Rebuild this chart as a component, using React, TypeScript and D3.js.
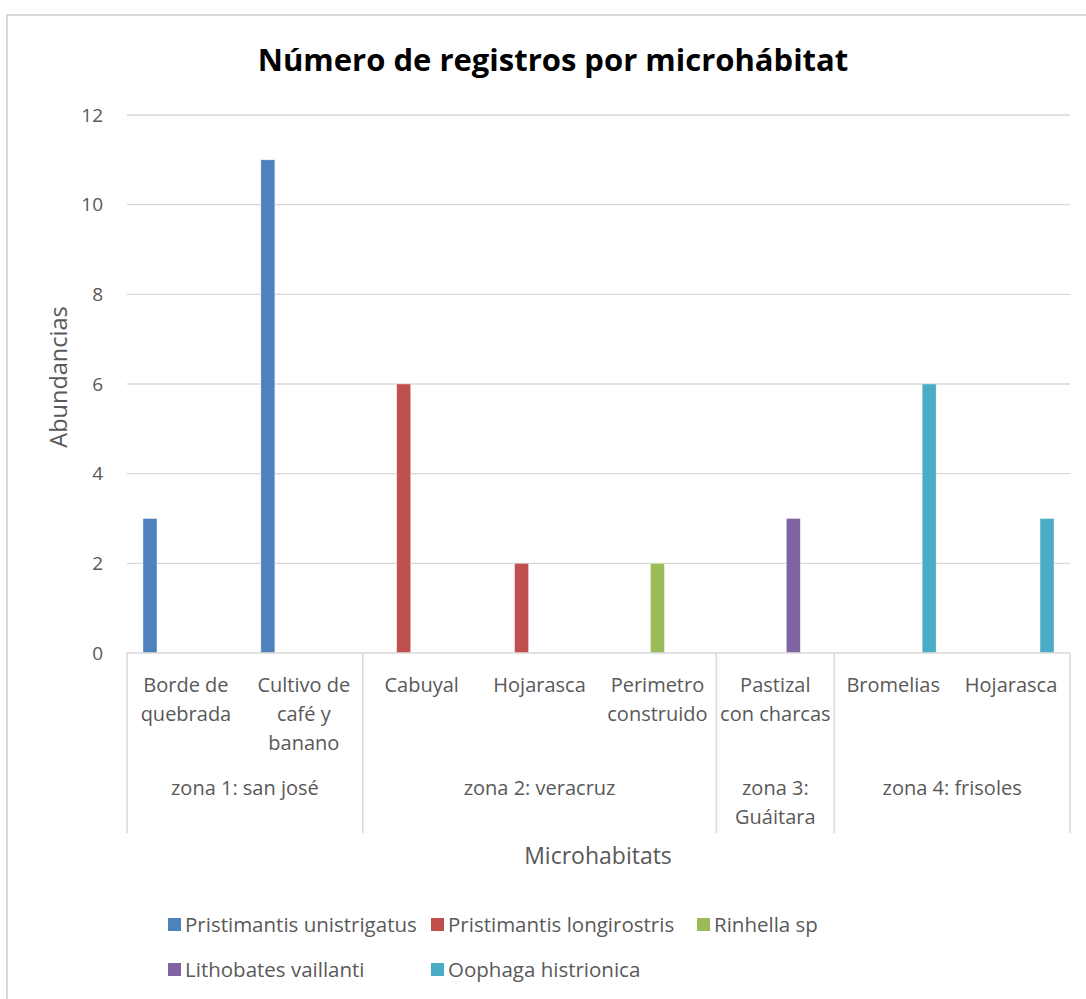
import React, { useEffect } from "react";
import * as d3 from "d3";

const title = "Número de registros por microhábitat";
const yAxisTitle = "Abundancias";
const xAxisTitle = "Microhabitats";

const categories = [
  "Borde de\nquebrada",
  "Cultivo de\ncafé y\nbanano",
  "Cabuyal",
  "Hojarasca",
  "Perimetro\nconstruido",
  "Pastizal\ncon charcas",
  "Bromelias",
  "Hojarasca",
];
const zones = ["zona 1: san josé", "zona 2: veracruz", "zona 3:\nGuáitara", "zona 4: frisoles"];
const zoneSizes = [2, 3, 1, 2];

const seriesNames = [
  "Pristimantis unistrigatus",
  "Pristimantis longirostris",
  "Rinhella sp",
  "Lithobates vaillanti",
  "Oophaga histrionica",
];
const seriesColors = ["#4f81bd", "#c0504d", "#9bbb59", "#8064a2", "#4bacc6"];

// value per category for each series (null = no bar)
const pUnistrigatus = [3, 11, null, null, null, null, null, null];
const pLongirostris = [null, null, 6, 2, null, null, null, null];
const rinhella = [null, null, null, null, 2, null, null, null];
const lithobates = [null, null, null, null, null, 3, null, null];
const oophaga = [null, null, null, null, null, null, 6, 3];
const seriesValues = [pUnistrigatus, pLongirostris, rinhella, lithobates, oophaga];

const yTicks = [0, 2, 4, 6, 8, 10, 12];

const FONT = "'Open Sans', Lato, sans-serif";
const TEXT = "#595959";
const GRID = "#d9d9d9";

export default function App() {
  useEffect(() => {
    document.body.style.margin = "0";
  }, []);

  const W = 1086;
  const H = 999;
  const left = 127;
  const right = 1070;
  const top = 115;
  const bottom = 653;
  const axisBottom = 833;

  const y = d3.scaleLinear().domain([0, 12]).range([bottom, top]);
  const x = d3
    .scaleBand<number>()
    .domain(d3.range(categories.length))
    .range([left, right])
    .padding(0);
  const inner = d3
    .scaleBand<number>()
    .domain(d3.range(seriesNames.length))
    .range([0, x.bandwidth()])
    .paddingInner(0.222)
    .paddingOuter(0.889);

  const zoneStarts: number[] = [];
  let acc = 0;
  zoneSizes.forEach((s) => {
    zoneStarts.push(acc);
    acc += s;
  });
  const boundaries = [...zoneStarts.map((s) => x(s) as number), right];

  const legendCols = [168, 431, 697];
  const legendRows = [925, 970];
  const LBL = 20;

  return (
    <svg
      width={W}
      height={H}
      style={{ position: "absolute", left: 0, top: 0, background: "#fff" }}
      fontFamily={FONT}
    >
      <rect x={0} y={0} width={W} height={H} fill="#fff" />
      <rect x={7} y={15} width={W + 20} height={H + 20} fill="none" stroke={GRID} strokeWidth={2} />

      <text x={553} y={71} textAnchor="middle" fontSize={31} fontWeight="bold" fill="#000">
        {title}
      </text>

      {yTicks.map((t) => (
        <g key={t}>
          {t !== 0 && (
            <line x1={left} x2={right} y1={y(t)} y2={y(t)} stroke={GRID} strokeWidth={1.3} />
          )}
          <text x={103} y={y(t)} dy="0.35em" textAnchor="end" fontSize={19} fill={TEXT}>
            {t}
          </text>
        </g>
      ))}

      {seriesValues.map((vals, si) =>
        vals.map((v, ci) =>
          v == null ? null : (
            <rect
              key={`${si}-${ci}`}
              x={(x(ci) as number) + (inner(si) as number)}
              y={y(v)}
              width={inner.bandwidth()}
              height={y(0) - y(v)}
              fill={seriesColors[si]}
              stroke="#fff"
              strokeOpacity={0.6}
              strokeWidth={0.6}
            />
          )
        )
      )}

      <line x1={left} x2={right} y1={bottom} y2={bottom} stroke={GRID} strokeWidth={1.5} />
      {boundaries.map((bx, i) => (
        <line key={i} x1={bx} x2={bx} y1={bottom} y2={axisBottom} stroke={GRID} strokeWidth={1.5} />
      ))}

      {categories.map((c, i) => (
        <text
          key={i}
          x={(x(i) as number) + x.bandwidth() / 2}
          y={692}
          textAnchor="middle"
          fontSize={LBL}
          fill={TEXT}
        >
          {c.split("\n").map((line, li) => (
            <tspan key={li} x={(x(i) as number) + x.bandwidth() / 2} dy={li === 0 ? 0 : 29}>
              {line}
            </tspan>
          ))}
        </text>
      ))}

      {zones.map((z, i) => {
        const cx = (boundaries[i] + boundaries[i + 1]) / 2;
        return (
          <text key={i} x={cx} y={795} textAnchor="middle" fontSize={LBL} fill={TEXT}>
            {z.split("\n").map((line, li) => (
              <tspan key={li} x={cx} dy={li === 0 ? 0 : 29}>
                {line}
              </tspan>
            ))}
          </text>
        );
      })}

      <text
        transform={`translate(67, 377) rotate(-90)`}
        textAnchor="middle"
        fontSize={23.5}
        fill={TEXT}
      >
        {yAxisTitle}
      </text>
      <text x={598} y={864} textAnchor="middle" fontSize={23} fill={TEXT}>
        {xAxisTitle}
      </text>

      {seriesNames.map((n, i) => {
        const lx = legendCols[i % 3];
        const ly = legendRows[Math.floor(i / 3)];
        return (
          <g key={n}>
            <rect x={lx} y={ly - 7} width={13} height={13} fill={seriesColors[i]} />
            <text x={lx + 17} y={ly} dy="0.35em" fontSize={20.5} fill={TEXT}>
              {n}
            </text>
          </g>
        );
      })}
    </svg>
  );
}
